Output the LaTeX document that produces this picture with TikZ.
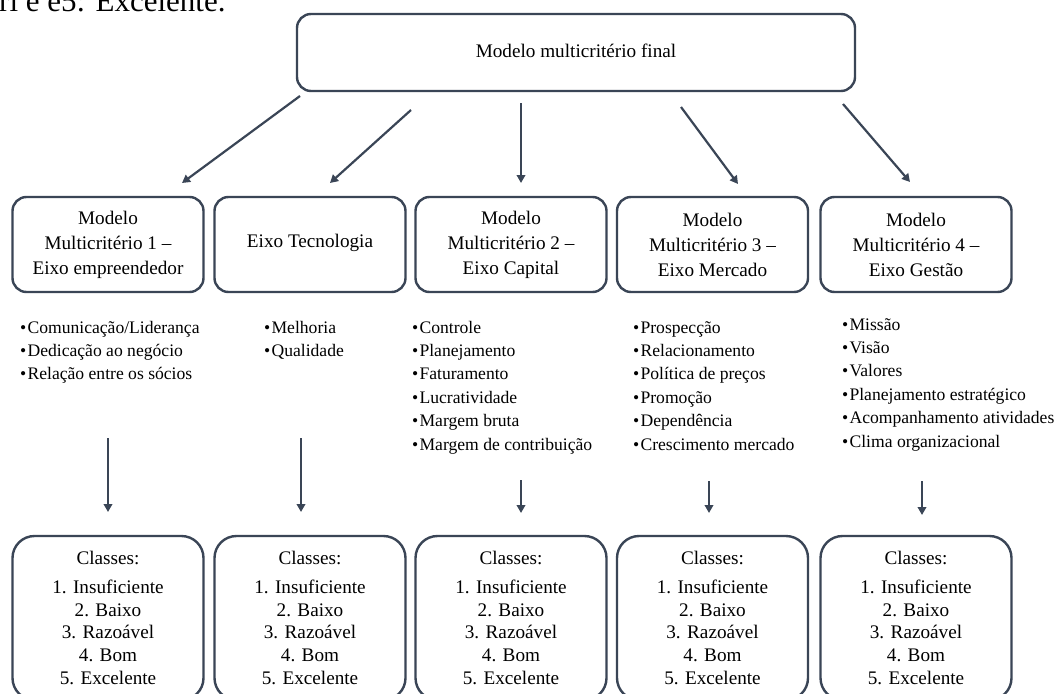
\documentclass[tikz,border=0pt]{standalone}
\usepackage{fontspec}
\setmainfont{Liberation Serif}
\usetikzlibrary{arrows.meta}
\definecolor{ln}{HTML}{3A4556}
\begin{document}
\begin{tikzpicture}[x=1pt,y=-1pt,
  topbox/.style={draw=ln, line width=2.4pt, rounded corners=14pt, align=center, inner sep=0pt,
    minimum width=558pt, minimum height=77pt, font=\fontsize{19.2}{23}\selectfont},
  midbox/.style={draw=ln, line width=2.4pt, rounded corners=14pt, align=center, inner sep=0pt,
    minimum width=191pt, minimum height=95pt, font=\fontsize{19.2}{25}\selectfont},
  clsbox/.style={draw=ln, line width=2.4pt, rounded corners=22pt, align=center, inner sep=0pt,
    minimum width=191pt, minimum height=164pt, font=\fontsize{19.2}{22.8}\selectfont},
  item/.style={anchor=base west, inner sep=0pt, font=\fontsize{17.6}{20}\selectfont},
  arr/.style={draw=ln, line width=2.2pt, -{Triangle[length=8pt,width=8.5pt]}},
  frag/.style={anchor=base west, inner sep=0pt, font=\fontsize{31}{31}\selectfont}
]
\useasboundingbox (0,0) rectangle (1059,693);
\fill[white] (0,0) rectangle (1059,693);
\clip (0,0) rectangle (1059,693);

% cut-off text of the page above
\node[frag] (frag) at (-1,12) {ri e e5: Excelente.};

% top box
\node[topbox] (top) at (576,52.5) {\raisebox{4pt}{Modelo multicritério final}};

% middle boxes
\node[midbox] (m1) at (108,244.5) {Modelo\\Multicritério 1 –\\Eixo empreendedor};
\node[midbox] (m2) at (310,244.5) {\raisebox{7pt}{Eixo Tecnologia}};
\node[midbox] (m3) at (511,244.5) {Modelo\\Multicritério 2 –\\Eixo Capital};
\node[midbox] (m4) at (712.5,244.5) {Modelo\\Multicritério 3 –\\Eixo Mercado};
\node[midbox] (m5) at (916,244.5) {Modelo\\Multicritério 4 –\\Eixo Gestão};

% arrows from top box
\coordinate (s1) at (300,96);  \coordinate (e1) at (182,183);
\coordinate (s2) at (411,110); \coordinate (e2) at (330,183);
\coordinate (s3) at (521,103); \coordinate (e3) at (521,183);
\coordinate (s4) at (681,107); \coordinate (e4) at (738,184);
\coordinate (s5) at (843,104); \coordinate (e5) at (910,182);
\foreach \k in {1,...,5} { \draw[arr] (s\k) -- (e\k); }

% bullet lists
\def\bul{\textbullet\hspace{1.2pt}}
\foreach \t [count=\i from 0] in {{Comunicação/Liderança},{Dedicação ao negócio},{Relação entre os sócios}}
  { \node[item] (a\i) at (20,333+23.4*\i) {\bul\t}; }
\foreach \t [count=\i from 0] in {{Melhoria},{Qualidade}}
  { \node[item] (b\i) at (264,333+23.4*\i) {\bul\t}; }
\foreach \t [count=\i from 0] in {{Controle},{Planejamento},{Faturamento},{Lucratividade},{Margem bruta},{Margem de contribuição}}
  { \node[item] (c\i) at (412,333+23.4*\i) {\bul\t}; }
\foreach \t [count=\i from 0] in {{Prospecção},{Relacionamento},{Política de preços},{Promoção},{Dependência},{Crescimento mercado}}
  { \node[item] (d\i) at (633,333+23.4*\i) {\bul\t}; }
\foreach \t [count=\i from 0] in {{Missão},{Visão},{Valores},{Planejamento estratégico},{Acompanhamento atividades},{Clima organizacional}}
  { \node[item] (f\i) at (842,330+23.4*\i) {\bul\t}; }

% lower arrows
\coordinate (u1) at (108,438); \coordinate (v1) at (108,512);
\coordinate (u2) at (301,438); \coordinate (v2) at (301,512);
\coordinate (u3) at (521,480); \coordinate (v3) at (521,513);
\coordinate (u4) at (709,481); \coordinate (v4) at (709,513);
\coordinate (u5) at (922,481); \coordinate (v5) at (922,515);
\foreach \k in {1,...,5} { \draw[arr] (u\k) -- (v\k); }

% class boxes
\foreach \x [count=\k] in {108,310,511,712.5,916} {
  \node[clsbox] (k\k) at (\x,618) {Classes:\\[6pt]1. Insuficiente\\2. Baixo\\3. Razoável\\4. Bom\\5. Excelente};
}
\end{tikzpicture}
\end{document}
